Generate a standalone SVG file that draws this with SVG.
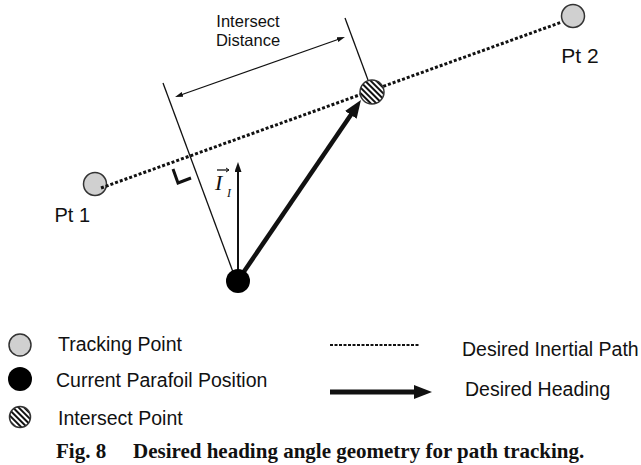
<svg xmlns="http://www.w3.org/2000/svg" width="641" height="465" viewBox="0 0 641 465">
<style>
.lbl{font-family:"Liberation Sans",Arial,sans-serif;fill:#111}
.leg{font-family:"Liberation Sans",Arial,sans-serif;font-size:19.5px;fill:#111}
.cap{font-family:"Liberation Serif","Times New Roman",serif;font-weight:bold;font-size:21px;fill:#111}
.thin{stroke:#111;stroke-width:1.3;fill:none}
.path{stroke:#111;stroke-width:3;stroke-dasharray:3 2;fill:none}
.track{fill:#d0d0d0;stroke:#333;stroke-width:1.5}
.hatch{fill:url(#hatch);stroke:#333;stroke-width:1.5}
.math{font-family:"Liberation Serif","Times New Roman",serif;font-style:italic;fill:#111}
</style>
<defs>
<pattern id="hatch" width="4" height="4" patternUnits="userSpaceOnUse" patternTransform="rotate(-45)">
<rect width="4" height="4" fill="#fff"/>
<rect width="2" height="4" fill="#111"/>
</pattern>
<marker id="big" markerUnits="userSpaceOnUse" markerWidth="18" markerHeight="14" refX="6" refY="7" orient="auto">
<path d="M0,0 L18,7 L0,14 z" fill="#111"/>
</marker>
<marker id="mid" markerUnits="userSpaceOnUse" markerWidth="10" markerHeight="7" refX="3" refY="3.5" orient="auto">
<path d="M0,0 L10,3.5 L0,7 z" fill="#111"/>
</marker>
<marker id="small" markerUnits="userSpaceOnUse" markerWidth="8" markerHeight="5" refX="2" refY="2.5" orient="auto-start-reverse">
<path d="M0,0 L8,2.5 L0,5 z" fill="#111"/>
</marker>
</defs>

<g id="pt1-node">
<circle class="track" cx="95" cy="184" r="11.5"/>
<text class="lbl" x="90" y="222" font-size="20" text-anchor="end">Pt 1</text>
</g>
<g id="pt2-node">
<circle class="track" cx="573" cy="16" r="11.5"/>
<text class="lbl" x="580" y="63" font-size="21" text-anchor="middle">Pt 2</text>
</g>

<g id="connectors">
<line class="path" x1="101" y1="188" x2="562" y2="22"/>
<line class="thin" x1="163" y1="83" x2="233" y2="272"/>
<line class="thin" x1="345" y1="18" x2="368" y2="80"/>
<line class="thin" x1="180.7" y1="95" x2="339.3" y2="39" marker-start="url(#small)" marker-end="url(#small)"/>
<polyline points="173,169 178,183 191,178" fill="none" stroke="#111" stroke-width="3"/>
<line x1="238" y1="272" x2="238" y2="169" stroke="#111" stroke-width="2" marker-end="url(#mid)"/>
<line x1="243" y1="273" x2="354.2" y2="109.9" stroke="#111" stroke-width="4.5" marker-end="url(#big)"/>
</g>

<g id="intersect-node">
<circle class="hatch" cx="372" cy="92" r="12"/>
</g>
<g id="current-node">
<circle cx="238" cy="281" r="12" fill="#000"/>
</g>

<g id="dist-label">
<text class="lbl" x="248" y="27" font-size="16.5" text-anchor="middle">Intersect</text>
<text class="lbl" x="248" y="46" font-size="16.5" text-anchor="middle">Distance</text>
</g>

<g id="vector-label">
<line x1="217" y1="170" x2="229" y2="170" stroke="#111" stroke-width="1.3"/>
<path d="M226,168 L229,170 L226,172" fill="none" stroke="#111" stroke-width="1"/>
<text class="math" x="215" y="190" font-size="22">I</text>
<text class="math" x="227" y="197" font-size="12">I</text>
</g>

<g id="legend">
<circle class="track" cx="20" cy="345" r="11"/>
<text class="leg" x="58" y="351">Tracking Point</text>
<circle cx="20" cy="379" r="12" fill="#000"/>
<text class="leg" x="56" y="387">Current Parafoil Position</text>
<circle class="hatch" cx="20" cy="417" r="10.5"/>
<text class="leg" x="58" y="425">Intersect Point</text>
<line x1="330" y1="345" x2="420" y2="345" stroke="#111" stroke-width="2" stroke-dasharray="3 1.5"/>
<text class="leg" x="462" y="356">Desired Inertial Path</text>
<line x1="330" y1="392" x2="420" y2="392" stroke="#111" stroke-width="5" marker-end="url(#big)"/>
<text class="leg" x="465" y="396">Desired Heading</text>
</g>

<g id="caption">
<text class="cap" x="56" y="458">Fig. 8</text>
<text class="cap" x="133" y="458">Desired heading angle geometry for path tracking.</text>
</g>
</svg>
